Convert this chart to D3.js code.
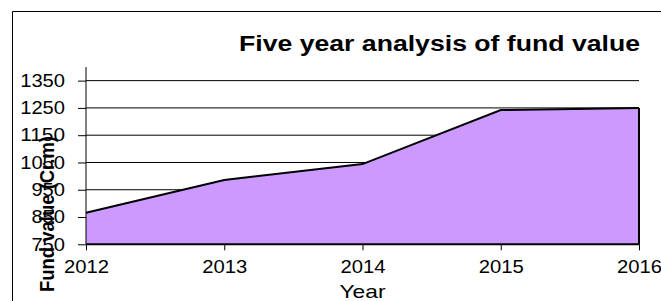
<!DOCTYPE html>
<html><head><meta charset="utf-8">
<script src="https://cdn.jsdelivr.net/npm/d3@7"></script>
<style>body{margin:0;background:#fff}svg{display:block}text{font-family:"Liberation Sans",Arial,sans-serif}</style>
</head><body>
<script>
const years = ["2012","2013","2014","2015","2016"];
const fundValues = [866, 986, 1044, 1242, 1250];
const yTicks = [750, 850, 950, 1050, 1150, 1250, 1350];
const title = "Five year analysis of fund value";
const xTitle = "Year";
const yTitle = "Fund value (Cr.m)";

const W = 661, H = 301;
const svg = d3.select("body").append("svg").attr("width", W).attr("height", H);
const mLeft = 86, mRight = 639, mTop = 67, mBottom = 244.3;

// outer frame
svg.append("path").attr("d", `M12.5,${H} V11.5 H${W}`).attr("fill","none").attr("stroke","#000").attr("stroke-width",1);

const x = d3.scalePoint().domain(years).range([mLeft, mRight]);
const y = d3.scaleLinear().domain([750, 1400]).range([mBottom, mTop]);

// gridlines
svg.append("g").selectAll("line").data(yTicks.filter(d=>d>750)).join("line")
  .attr("x1", mLeft).attr("x2", mRight).attr("y1", d=>y(d)).attr("y2", d=>y(d))
  .attr("stroke","#000").attr("stroke-width",1);

// area
const data = years.map((yr,i)=>({yr, v: fundValues[i]}));
const area = d3.area().x(d=>x(d.yr)).y0(y(750)).y1(d=>y(d.v));
svg.append("path").datum(data).attr("d", area).attr("fill","#cc99ff").attr("stroke","none");
const line = d3.line().x(d=>x(d.yr)).y(d=>y(d.v));
svg.append("path").datum(data).attr("d", line).attr("fill","none").attr("stroke","#000").attr("stroke-width",2);
svg.append("line").attr("x1", mRight).attr("x2", mRight).attr("y1", y(fundValues[4])).attr("y2", mBottom)
  .attr("stroke","#000").attr("stroke-width",2);

// y axis
const yAxis = d3.axisLeft(y).tickValues(yTicks).tickSize(8).tickPadding(13).tickFormat(d3.format("d"));
const gy = svg.append("g").attr("transform", `translate(${mLeft},0)`).call(yAxis);
gy.select(".domain").attr("d", `M0,${mTop}V${mBottom}`).attr("stroke","#000");
gy.selectAll("text").attr("font-size", 18).attr("fill","#000").attr("font-family","Liberation Sans, Arial")
  .attr("textLength", d => String(d).length * 11.2).attr("lengthAdjust","spacingAndGlyphs");

// x axis
const xAxis = d3.axisBottom(x).tickSize(6).tickPadding(10);
const gx = svg.append("g").attr("transform", `translate(0,${mBottom})`).call(xAxis);
gx.select(".domain").attr("d", `M${mLeft},0H${mRight}`).attr("stroke","#000").attr("stroke-width",2);
gx.selectAll("text").attr("font-size", 18).attr("fill","#000").attr("font-family","Liberation Sans, Arial")
  .attr("textLength", 45).attr("lengthAdjust","spacingAndGlyphs");

// titles
svg.append("text").attr("x", 239).attr("y", 51).attr("font-size", 22.5).attr("font-weight","bold")
  .attr("textLength", 401).attr("lengthAdjust","spacingAndGlyphs").text(title);
svg.append("text").attr("x", x("2014")).attr("y", 298).attr("text-anchor","middle").attr("font-size", 19)
  .attr("textLength", 46).attr("lengthAdjust","spacingAndGlyphs").text(xTitle);
svg.append("text").attr("transform", "translate(54,214) rotate(-90)").attr("text-anchor","middle")
  .attr("font-size", 20).attr("font-weight","bold")
  .attr("textLength", 156).attr("lengthAdjust","spacingAndGlyphs").text(yTitle);
</script>
</body></html>
